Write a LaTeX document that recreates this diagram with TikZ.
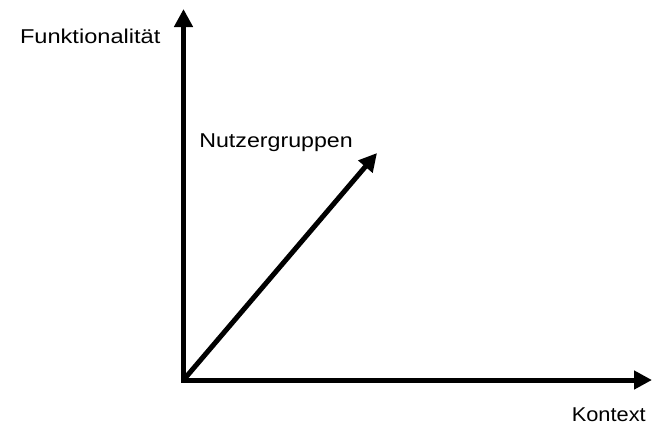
\documentclass[tikz,border=0pt]{standalone}
\usepackage{fontspec}
\setmainfont{Liberation Sans}
\usetikzlibrary{arrows.meta}
\tikzset{
  axis/.style={line width=3.75pt, draw=black, -{Triangle[length=13.5pt,width=13.5pt]}},
  lbl/.style={anchor=base west, inner sep=0pt, outer sep=0pt, font=\fontsize{15pt}{18pt}\selectfont}
}
\begin{document}
\begin{tikzpicture}[x=0.75pt,y=-0.75pt]
\useasboundingbox (0,0) rectangle (653,426);
\coordinate (O) at (183.5,380);
\coordinate (Ov) at (183.5,382.5);
\coordinate (Oh) at (181,380);
\coordinate (Ytip) at (183.5,9);
\coordinate (Xtip) at (652,380);
\coordinate (Dtip) at (377,153);
\draw[axis] (Ov) -- (Ytip);
\draw[axis] (Oh) -- (Xtip);
\draw[axis] (O) -- (Dtip);
\node[lbl] (funk) at (20,43) {\scalebox{1.18}[1]{Funktionalität}};
\node[lbl] (nutz) at (199.3,147.7) {\scalebox{1.16}[1]{Nutzergruppen}};
\node[lbl] (kont) at (571.8,421.7) {\scalebox{1.09}[1]{Kontext}};
\end{tikzpicture}
\end{document}
